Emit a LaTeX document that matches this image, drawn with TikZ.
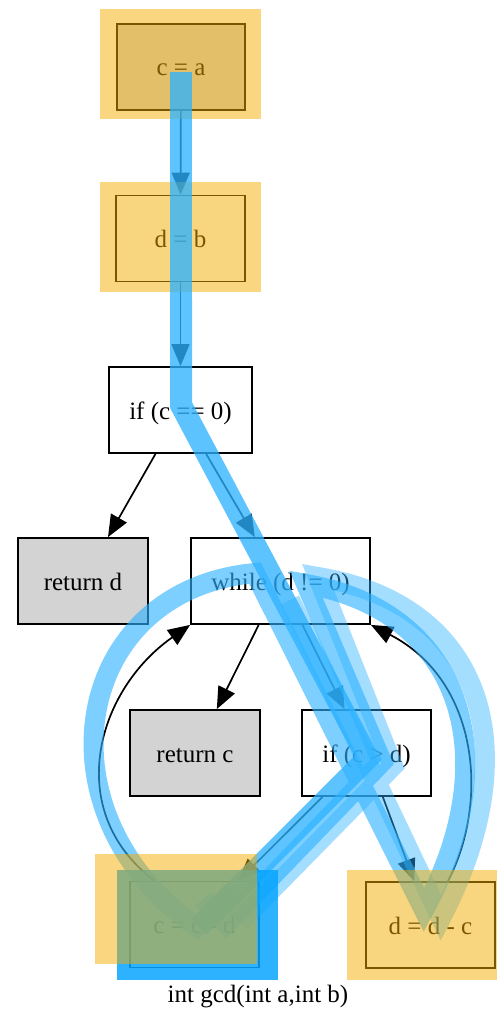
\documentclass[tikz,border=0pt]{standalone}
\usepackage{fontspec}
\setmainfont{Liberation Serif}
\usetikzlibrary{arrows.meta}
\definecolor{tracecol}{RGB}{45,178,255}
\definecolor{visitcol}{RGB}{243,173,0}
\definecolor{currcol}{RGB}{8,165,255}
\definecolor{termfill}{RGB}{211,211,211}
\begin{document}
\begin{tikzpicture}[x=1pt,y=-1pt,
  stmt/.style={draw=black, line width=1.8pt, minimum width=#1, minimum height=86pt,
    inner sep=0pt, text height=24pt, text depth=6pt, font=\fontsize{25}{30}\selectfont},
  edge/.style={draw=black, line width=1.7pt, -{Triangle[length=22pt,width=18pt]}},
  band/.style={draw=tracecol, line width=20pt, line join=miter, miter limit=20, line cap=butt},
  visited/.style={fill=visitcol, opacity=.5}]
\useasboundingbox (0,0) rectangle (497,1014);

% statements of the control-flow graph
\node[stmt=128pt, fill=termfill] (ca)  at (181,67)      {c = a};
\node[stmt=129pt, fill=white]    (db)  at (180.5,238.5) {d = b};
\node[stmt=143pt, fill=white]    (if0) at (180.5,410)   {if (c == 0)};
\node[stmt=130pt, fill=termfill] (retd) at (83,581)     {return d};
\node[stmt=179pt, fill=white]    (wh)  at (280.5,581)   {while (d != 0)};
\node[stmt=130pt, fill=termfill] (retc) at (195,753)    {return c};
\node[stmt=129pt, fill=white]    (ifg) at (366.5,753)   {if (c > d)};
\node[stmt=129pt, fill=white]    (ccd) at (194.5,924.5) {c = c - d};
\node[stmt=129pt, fill=white]    (ddc) at (430.5,925)   {d = d - c};

% control-flow edges
\draw[edge] (ca) -- (db);
\draw[edge] (db) -- (if0);
\draw[edge] (if0) -- (retd);
\draw[edge] (if0) -- (wh);
\draw[edge] (wh) -- (retc);
\draw[edge] (wh) -- (ifg);
\draw[edge] (ifg) -- (ddc);
\draw[edge] (ifg) -- (ccd);
\draw[edge] ([xshift=25pt]ccd.north west) .. controls (62,810) and (97,690) .. (wh.south west);
\draw[edge] ([xshift=17.5pt]ddc.north) .. controls (490,800) and (478,680) .. (wh.south east);

% execution trace, later passes
\draw[band, draw opacity=.43] (290,600) -- (441,918)
  .. controls (528,750) and (485,605) .. (318,577) -- (393,766) -- (240,922);
\draw[band, draw opacity=.62] (232,892) -- (197,927)
  .. controls (35,815) and (70,590) .. (255,573) -- (424,910)
  .. controls (506,760) and (465,612) .. (306,584) -- (382,762) -- (226,924) -- (203,899);
% execution trace, first pass (lower part)
\draw[band, line width=22pt, draw opacity=.77] (181,300) -- (181,405) -- (368,758) -- (199,927);

% current statement and visited statements
\fill[currcol, opacity=.85] (117,870) rectangle (278,980);
\fill[visited] (100,9) rectangle (261,119);
\fill[visited] (100,182) rectangle (261,292);
\fill[visited] (95,854) rectangle (257,964);
\fill[visited] (347,870) rectangle (500,980);

% execution trace, first pass (upper part)
\draw[band, line width=22pt, draw opacity=.77] (181,72) -- (181,300);

\node[font=\fontsize{25}{30}\selectfont] (title) at (258,997) {int gcd(int a,int b)};
\end{tikzpicture}
\end{document}
